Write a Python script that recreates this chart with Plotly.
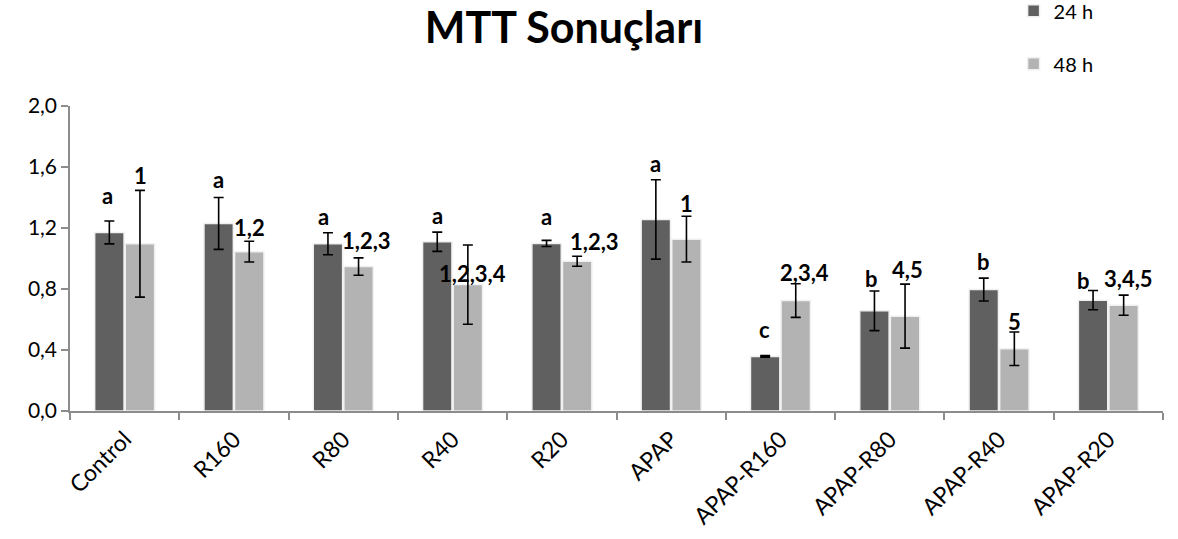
import plotly.graph_objects as go

categories = ["Control", "R160", "R80", "R40", "R20", "APAP", "APAP-R160", "APAP-R80", "APAP-R40", "APAP-R20"]
vals_24 = [1.171, 1.230, 1.097, 1.110, 1.099, 1.256, 0.358, 0.657, 0.796, 0.727]
err_24 = [0.075, 0.170, 0.072, 0.063, 0.020, 0.260, 0.005, 0.130, 0.075, 0.063]
vals_48 = [1.097, 1.045, 0.947, 0.829, 0.982, 1.127, 0.724, 0.622, 0.408, 0.694]
err_48 = [0.350, 0.068, 0.057, 0.260, 0.033, 0.150, 0.110, 0.210, 0.110, 0.066]
labels_24 = ["a", "a", "a", "a", "a", "a", "c", "b", "b", "b"]
labels_48 = ["1", "1,2", "1,2,3", "1,2,3,4", "1,2,3", "1", "2,3,4", "4,5", "5", "3,4,5"]
# label anchor heights (data units) and horizontal nudges (px)
label_y_24 = [1.415, 1.52, 1.273, 1.284, 1.278, 1.622, 0.533, 0.87, 0.979, 0.859]
label_y_48 = [1.546, 1.206, 1.121, 0.903, 1.11, 1.361, 0.907, 0.925, 0.587, 0.87]
shift_24 = [-2, 0, -4, 0, 0, 0, 0, -3, 0, -9]
shift_48 = [0, 0, 8, 4, 17, 0, 9, 2, 0, 5]

FONT = "Lato, 'Open Sans', sans-serif"

fig = go.Figure()
fig.add_trace(go.Bar(
    x=categories, y=vals_24, name="24 h", legendgroup="g1",
    marker=dict(color="#606060", line=dict(color="#f0f0f0", width=1.5)),
    error_y=dict(type="data", array=err_24, color="black", thickness=1.6, width=5),
))
fig.add_trace(go.Bar(
    x=categories, y=vals_48, name="48 h", legendgroup="g2",
    marker=dict(color="#b3b3b3", line=dict(color="#f0f0f0", width=1.5)),
    error_y=dict(type="data", array=err_48, color="black", thickness=1.6, width=5),
))

font_lbl = dict(family=FONT, size=22, color="black")
for i, c in enumerate(categories):
    fig.add_annotation(x=i, y=label_y_24[i], text="<b>%s</b>" % labels_24[i], showarrow=False,
                       xshift=-15.5 + shift_24[i], yanchor="middle", font=font_lbl)
    fig.add_annotation(x=i, y=label_y_48[i], text="<b>%s</b>" % labels_48[i], showarrow=False,
                       xshift=15.5 + shift_48[i], yanchor="middle", font=font_lbl)

fig.update_layout(
    width=1178, height=539,
    paper_bgcolor="white", plot_bgcolor="white",
    separators=",.",
    margin=dict(l=70, r=15, t=106, b=128, autoexpand=False),
    barmode="group", bargap=0.44, bargroupgap=0.04,
    title=dict(text="<b>MTT Sonuçları</b>", x=564 / 1178, xanchor="center", y=0.948, yanchor="middle",
               font=dict(family=FONT, size=43, color="black")),
    font=dict(family=FONT, color="black"),
    legend=dict(x=1017 / 1178, xref="paper", y=1.376, yref="paper", xanchor="left", yanchor="top",
                orientation="v", tracegroupgap=24, itemwidth=30,
                font=dict(size=20, color="black", family=FONT), bgcolor="rgba(0,0,0,0)"),
    showlegend=True,
)
fig.update_yaxes(range=[0, 2], tickvals=[0, 0.4, 0.8, 1.2, 1.6, 2.0], tickformat=".1f", automargin=False,
                 showgrid=False, zeroline=False, showline=True, linecolor="#8c8c8c", linewidth=1.5,
                 ticks="outside", ticklen=7, tickcolor="#8c8c8c", tickwidth=1.5,
                 tickfont=dict(size=21, color="black", family=FONT))
fig.update_xaxes(showgrid=False, showline=True, linecolor="#8c8c8c", linewidth=1.5, automargin=False,
                 ticks="outside", ticklen=7, tickcolor="#8c8c8c", tickwidth=1.5, tickson="boundaries",
                 ticklabelstandoff=4,
                 tickangle=-45, tickfont=dict(size=23, color="black", family=FONT))

fig.write_html("out.html", config={"displayModeBar": False},
               post_script="document.body.style.margin='0';")
